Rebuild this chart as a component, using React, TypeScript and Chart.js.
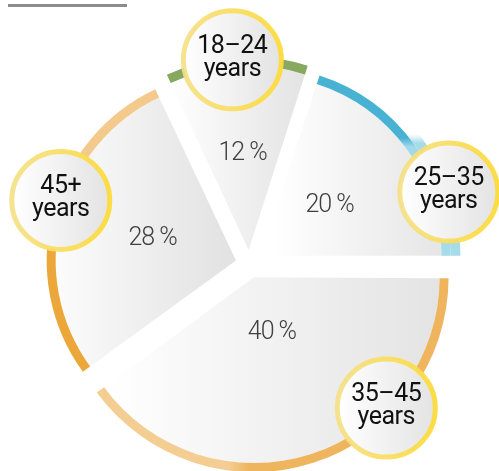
import React, { useEffect, useRef } from "react";
import { Chart, registerables } from "chart.js";

Chart.register(...registerables);

// ---- data ----
const categories = ["18–24 years", "25–35 years", "35–45 years", "45+ years"];
const circleLine1 = ["18–24", "25–35", "35–45", "45+"];
const circleLine2 = ["years", "years", "years", "years"];
const shares = [12, 20, 40, 28];
const valueLabels = ["12 %", "20 %", "40 %", "28 %"];

// ---- layout / style config ----
const ROTATION = -25.2;
const SLICE_R = 189; // outer radius of coloured stripe
const BAND = 10; // extra outer band (only visible on 25–35)
const STRIPE = 9;
const OFFSET = 56;
const circleAt = [0.47, 0.74, 0.31, 0.545];
const circleDist = [1.01, 1.05, 0.985, 0.98];
const valueDist = [0.51, 0.45, 0.31, 0.455];
const CIRCLE_R = 49;

function geom(chart: any, i: number) {
  const a = chart.chartArea;
  const cx = (a.left + a.right) / 2;
  const cy = (a.top + a.bottom) / 2;
  const total = shares.reduce((s, v) => s + v, 0);
  let cum = 0;
  for (let k = 0; k < i; k++) cum += shares[k];
  const base = (ROTATION * Math.PI) / 180 - Math.PI / 2;
  const start = base + (2 * Math.PI * cum) / total;
  const end = start + (2 * Math.PI * shares[i]) / total;
  const mid = (start + end) / 2;
  const t = OFFSET / 4;
  const ax = cx + Math.cos(mid) * t;
  const ay = cy + Math.sin(mid) * t;
  let minX = ax, maxX = ax, minY = ay, maxY = ay;
  for (let s = 0; s <= 60; s++) {
    const ang = start + ((end - start) * s) / 60;
    const x = ax + Math.cos(ang) * SLICE_R;
    const y = ay + Math.sin(ang) * SLICE_R;
    minX = Math.min(minX, x); maxX = Math.max(maxX, x);
    minY = Math.min(minY, y); maxY = Math.max(maxY, y);
  }
  return { start, end, mid, ax, ay, minX, maxX, minY, maxY };
}

function sliceColor(context: any) {
  const chart = context.chart;
  if (!chart.chartArea) return "#eeeeee";
  const g = geom(chart, context.dataIndex);
  const gr = chart.ctx.createLinearGradient(g.minX, 0, g.maxX, 0);
  gr.addColorStop(0, "#ffffff");
  gr.addColorStop(1, "#e3e3e3");
  return gr;
}

function bandColor(context: any) {
  const chart = context.chart;
  const i = context.dataIndex;
  if (!chart.chartArea || i !== 1) return "rgba(0,0,0,0)";
  const g = geom(chart, i);
  const gr = chart.ctx.createLinearGradient(0, g.minY, 0, g.maxY);
  gr.addColorStop(0, "rgba(166,219,234,0)");
  gr.addColorStop(0.37, "rgba(166,219,234,0)");
  gr.addColorStop(0.42, "rgba(166,219,234,1)");
  gr.addColorStop(1, "rgba(166,219,234,1)");
  return gr;
}

function stripeColor(context: any) {
  const chart = context.chart;
  const i = context.dataIndex;
  if (!chart.chartArea) return "#cccccc";
  const g = geom(chart, i);
  const c = chart.ctx;
  if (i === 0) return "#86a85f";
  if (i === 1) {
    const gr = c.createLinearGradient(0, g.minY, 0, g.maxY);
    gr.addColorStop(0, "#48b2d3");
    gr.addColorStop(0.39, "#48b2d3");
    gr.addColorStop(0.44, "#a2d9ea");
    gr.addColorStop(1, "#a6dbea");
    return gr;
  }
  if (i === 2) {
    const gr = c.createLinearGradient(g.minX, 0, g.maxX, 0);
    gr.addColorStop(0, "#f3cd91");
    gr.addColorStop(0.36, "#f3cd91");
    gr.addColorStop(0.42, "#eeb55e");
    gr.addColorStop(1, "#eeb55e");
    return gr;
  }
  const gr = c.createLinearGradient(0, g.minY, 0, g.maxY);
  gr.addColorStop(0, "#f3ca8b");
  gr.addColorStop(0.3, "#f3ca8b");
  gr.addColorStop(0.6, "#eca73a");
  gr.addColorStop(1, "#eca73a");
  return gr;
}

const labelPlugin = {
  id: "sliceLabels",
  afterDatasetsDraw(chart: any) {
    const c = chart.ctx as any;
    c.save();
    for (let i = 0; i < shares.length; i++) {
      const g = geom(chart, i);
      // percentage label
      const vd = valueDist[i] * SLICE_R;
      const vx = g.ax + Math.cos(g.mid) * vd;
      const vy = g.ay + Math.sin(g.mid) * vd;
      c.font = "300 25px Roboto";
      c.letterSpacing = "-1px";
      c.fillStyle = "#404040";
      c.textAlign = "center";
      c.textBaseline = "middle";
      c.fillText(valueLabels[i], vx, vy);

      // category bubble
      const ang = g.start + (g.end - g.start) * circleAt[i];
      const d = circleDist[i] * SLICE_R;
      const x = g.ax + Math.cos(ang) * d;
      const y = g.ay + Math.sin(ang) * d;
      const fill = c.createLinearGradient(x - CIRCLE_R, 0, x + CIRCLE_R, 0);
      fill.addColorStop(0, "#ffffff");
      fill.addColorStop(1, "#e3e3e3");
      const ring = c.createLinearGradient(x - CIRCLE_R, 0, x + CIRCLE_R, 0);
      ring.addColorStop(0, "rgba(245,224,135,0.92)");
      ring.addColorStop(1, "rgba(253,219,60,0.95)");
      c.beginPath();
      c.arc(x, y, CIRCLE_R, 0, Math.PI * 2);
      c.fillStyle = fill;
      c.fill();
      c.lineWidth = 5;
      c.strokeStyle = ring;
      c.stroke();
      c.fillStyle = "#111111";
      c.font = "400 25px Roboto";
      c.letterSpacing = "-0.5px";
      c.textBaseline = "alphabetic";
      c.fillText(circleLine1[i], x, y - 7);
      c.fillText(circleLine2[i], x, y + 16);
    }
    c.restore();
  },
};

export default function App() {
  const ref = useRef<HTMLCanvasElement>(null);
  useEffect(() => {
    const chart = new Chart(ref.current as HTMLCanvasElement, {
      type: "pie",
      data: {
        labels: categories,
        datasets: [
          { data: shares, backgroundColor: bandColor as any, weight: BAND, borderWidth: 0, offset: OFFSET } as any,
          { data: shares, backgroundColor: stripeColor as any, weight: STRIPE, borderWidth: 0, offset: OFFSET } as any,
          { data: shares, backgroundColor: sliceColor as any, weight: SLICE_R - STRIPE, borderWidth: 0, offset: OFFSET } as any,
        ],
      },
      options: {
        responsive: false,
        animation: false,
        events: [],
        rotation: ROTATION,
        radius: SLICE_R + BAND,
        layout: { padding: { top: 57 } },
        plugins: { legend: { display: false }, tooltip: { enabled: false } },
      } as any,
      plugins: [labelPlugin],
    });
    return () => chart.destroy();
  }, []);
  return (
    <div style={{ position: "absolute", left: 0, top: 0, width: 499, height: 471 }}>
      <div style={{ position: "absolute", left: 8, top: 4, width: 119, height: 3, background: "#8c8c8c" }} />
      <canvas ref={ref} width={499} height={471} style={{ display: "block", width: 499, height: 471 }} />
    </div>
  );
}
